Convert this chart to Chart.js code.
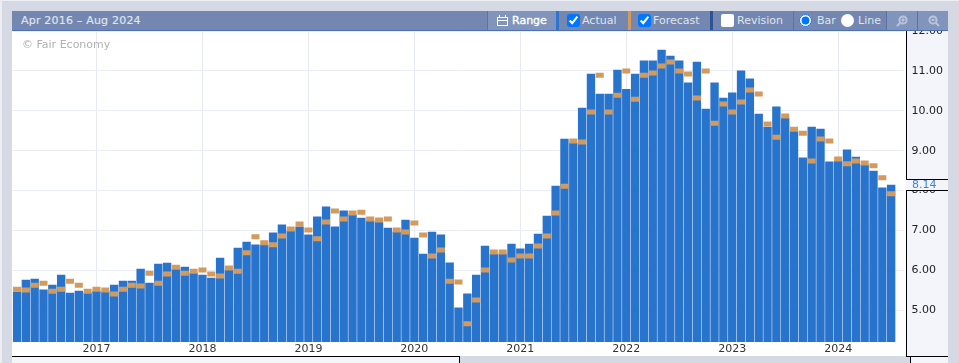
<!DOCTYPE html>
<html>
<head>
<meta charset="utf-8">
<script src="https://cdn.jsdelivr.net/npm/chart.js@4/dist/chart.umd.min.js"></script>
<style>
  html, body { margin: 0; padding: 0; width: 959px; height: 363px; overflow: hidden; background: #eceef3; font-family: "DejaVu Sans", sans-serif; }
  #frame { position: absolute; left: 2px; top: 1px; width: 957px; height: 362px; background: #d5d9e3; }
  #panel { position: absolute; left: 12px; top: 31px; width: 894px; height: 325px; background: #fff; }
  #axisBg { position: absolute; left: 906px; top: 31px; width: 42px; height: 325px; background: #f3f5fa; border-left: 1px solid #000; box-sizing: border-box; }
  #axisFoot { position: absolute; left: 906px; top: 356px; width: 42px; height: 7px; background: linear-gradient(to right, #d5d9e3 4px, #000 4px, #000 5px, #f3f5fa 5px); border-top: 1px solid #000; box-sizing: border-box; }
  #bottomLine { position: absolute; left: 12px; top: 356px; width: 448px; height: 7px; background: #f3f5fa; border-top: 1px solid #000; border-right: 1px solid #000; box-sizing: border-box; }
  #chartBox { position: absolute; left: 0; top: 0; width: 959px; height: 363px; }
  #bar { position: absolute; left: 12px; top: 11px; width: 936px; height: 20px; background: #7387b0; border-bottom: 1px solid #4d6fb3; box-sizing: border-box; color: #dfe4ee; font-size: 11px; line-height: 19px; }
  #bar span, #bar input, #bar i, #bar svg, #bar b { position: absolute; }
  #bar input { margin: 0; width: 13px; height: 13px; top: 3px; }
  #bar input.off { appearance: none; background: #fff; border-radius: 2px; }
  #bar input.roundOff { appearance: none; background: #fff; border-radius: 50%; }
  #bar b { top: 0; height: 19px; background: #8195bc; }
  #bar i { top: 0; height: 19px; }
  #latest { position: absolute; left: 906px; top: 179px; width: 42px; height: 12px; background: #f3f5fa; border-top: 1px solid #000; border-bottom: 1px solid #000; box-sizing: border-box; color: #3d85d8; font-size: 11px; line-height: 10px; padding-left: 6px; }
  #copy { position: absolute; left: 22px; top: 38px; color: #b0b0b0; font-size: 11px; }
</style>
</head>
<body>
<div id="frame"></div>
<div id="panel"></div>
<div id="axisBg"></div>
<div id="axisFoot"></div>
<div id="bottomLine"></div>
<div id="chartBox"><canvas id="rateChart" width="959" height="363"></canvas></div>
<div id="copy">© Fair Economy</div>
<div id="latest">8.14</div>
<div id="bar">
  <span style="left:9px;letter-spacing:.2px;-webkit-text-stroke:.2px #dfe4ee">Apr 2016 – Aug 2024</span>
  <b style="left:475px;width:69px"></b>
  <i style="left:475px;width:1px;background:#5b74a6"></i>
  <svg style="left:485px;top:4px" width="11" height="11" viewBox="0 0 11 11" fill="none" stroke="#fff" stroke-width="1"><rect x="0.5" y="2.5" width="10" height="8"/><path d="M0.5 5.5H10.5M2.5 0V3M8.5 0V3"/></svg>
  <span style="left:500px;color:#fff;-webkit-text-stroke:.35px #fff">Range</span>
  <i style="left:544px;width:3px;background:#2f74d0"></i>
  <input type="checkbox" checked style="left:555px"><span style="left:570px">Actual</span>
  <i style="left:616px;width:3px;background:#d49a5c"></i>
  <input type="checkbox" checked style="left:626px"><span style="left:641px">Forecast</span>
  <i style="left:698px;width:3px;background:#2d5595"></i>
  <input type="checkbox" class="off" style="left:709px"><span style="left:725px">Revision</span>
  <i style="left:781px;width:1px;background:#5b74a6"></i>
  <input type="radio" name="view" checked style="left:787px"><span style="left:805px">Bar</span>
  <input type="radio" name="view" class="roundOff" style="left:829px"><span style="left:846px">Line</span>
  <b style="left:875px;width:61px"></b>
  <i style="left:874px;width:1px;background:#5b74a6"></i>
  <i style="left:905px;width:1px;background:#5b74a6"></i>
  <svg style="left:884px;top:4px" width="12" height="12" viewBox="0 0 12 12" fill="none" stroke="#b9c4da" stroke-width="2"><circle cx="7" cy="5" r="3.6"/><path d="M4 8L1 11M5.5 5H8.5M7 3.5V6.5" /></svg>
  <svg style="left:916px;top:4px" width="12" height="12" viewBox="0 0 12 12" fill="none" stroke="#b9c4da" stroke-width="2"><circle cx="5" cy="5" r="3.6"/><path d="M8 8L11 11M3.5 5H6.5"/></svg>
</div>
<script>
var months = ['Jan','Feb','Mar','Apr','May','Jun','Jul','Aug','Sep','Oct','Nov','Dec'];

// Apr 2016 to Jul 2024, one spare slot on the end for Aug 2024
var categories = [];
for (var y = 2016; y <= 2024; y++) {
  for (var m = 0; m < 12; m++) {
    if (y == 2016 && m < 3) continue;
    if (y == 2024 && m > 7) continue;
    categories.push(months[m] + ' ' + y);
  }
}

var actual = [5.46,5.76,5.78,5.51,5.63,5.88,5.43,5.48,5.43,5.48,
  5.46,5.63,5.73,5.73,6.03,5.68,6.16,6.18,6.03,6.08,
  5.93,5.88,5.81,6.31,6.01,6.56,6.71,6.64,6.64,6.94,
  7.14,6.99,7.09,6.89,7.34,7.59,7.09,7.49,7.39,7.31,
  7.24,7.21,7.06,6.96,7.26,6.81,6.41,6.96,6.89,6.19,
  5.06,5.41,5.88,6.61,6.41,6.41,6.66,6.54,6.66,6.91,
  7.36,8.11,9.29,9.19,10.07,10.92,10.42,10.42,11.02,10.54,
  10.92,11.25,11.25,11.52,11.37,11.25,10.70,11.22,10.04,10.70,
  10.32,10.45,11.00,10.80,9.92,9.59,10.10,9.82,9.49,8.82,
  9.59,9.54,8.72,8.74,9.02,8.84,8.64,8.49,8.07,8.14];

var forecast = [5.53,5.51,5.63,5.68,5.48,5.53,5.73,5.63,5.48,5.53,
  5.51,5.41,5.53,5.63,5.61,5.93,5.68,5.91,6.08,5.93,
  5.98,6.01,5.91,5.86,6.06,5.98,6.44,6.84,6.69,6.64,
  6.86,7.04,7.16,7.01,6.79,7.21,7.49,7.29,7.44,7.46,
  7.29,7.26,7.29,7.01,6.96,7.19,6.89,6.36,6.51,5.73,
  5.71,4.66,5.26,6.01,6.46,6.46,6.26,6.36,6.36,6.61,
  6.86,7.44,8.11,9.24,9.22,9.97,10.89,9.97,10.39,11.00,
  10.29,10.89,10.95,11.12,11.22,11.00,10.92,10.32,11.00,9.69,
  10.17,9.97,10.22,10.52,10.42,9.67,9.34,9.87,9.54,9.44,
  8.74,9.29,9.24,8.79,8.67,8.74,8.69,8.62,8.32,7.92];

var yTicks = [5, 6, 7, 8, 9, 10, 11, 12];

var ctx = document.getElementById('rateChart').getContext('2d');
var rateChart = new Chart(ctx, {
  data: {
    labels: categories,
    datasets: [{
      type: 'line',
      label: 'Forecast',
      data: forecast,
      showLine: false,
      pointStyle: 'line',
      pointRadius: 4,
      pointBorderWidth: 5,
      pointBorderColor: '#d49a5c',
      order: 1
    }, {
      type: 'bar',
      label: 'Actual',
      data: actual,
      backgroundColor: '#2874cd',
      barThickness: 7.7,
      order: 2
    }]
  },
  options: {
    responsive: false,
    animation: false,
    events: [],
    layout: { padding: { left: 12.6, right: 11, top: 31, bottom: 7 } },
    plugins: { legend: { display: false }, tooltip: { enabled: false } },
    scales: {
      x: {
        offset: true,
        afterFit: function(axis) { axis.height = 14; },
        border: { display: false },
        grid: {
          offset: false,
          drawTicks: false,
          lineWidth: 1,
          color: function(c) {
            return (c.tick && categories[c.tick.value] && categories[c.tick.value].indexOf('Jan') == 0) ? '#e6e8f2' : 'rgba(0,0,0,0)';
          }
        },
        ticks: {
          autoSkip: false,
          maxRotation: 0,
          padding: 1,
          color: '#333',
          font: { family: 'DejaVu Sans', size: 11 },
          callback: function(value) {
            var c = categories[value];
            return c.indexOf('Jan') == 0 ? c.slice(4) : '';
          }
        }
      },
      y: {
        position: 'right',
        min: 4.205,
        max: 12,
        afterBuildTicks: function(axis) { axis.ticks = yTicks.map(function(v) { return { value: v }; }); },
        afterFit: function(axis) { axis.width = 43.6; },
        border: { display: false },
        grid: { drawTicks: false, color: '#ebedf4', lineWidth: 1 },
        ticks: {
          padding: 7,
          color: '#222',
          font: { family: 'DejaVu Sans', size: 11 },
          callback: function(value) { return value.toFixed(2); }
        }
      }
    }
  }
});
</script>
</body>
</html>
